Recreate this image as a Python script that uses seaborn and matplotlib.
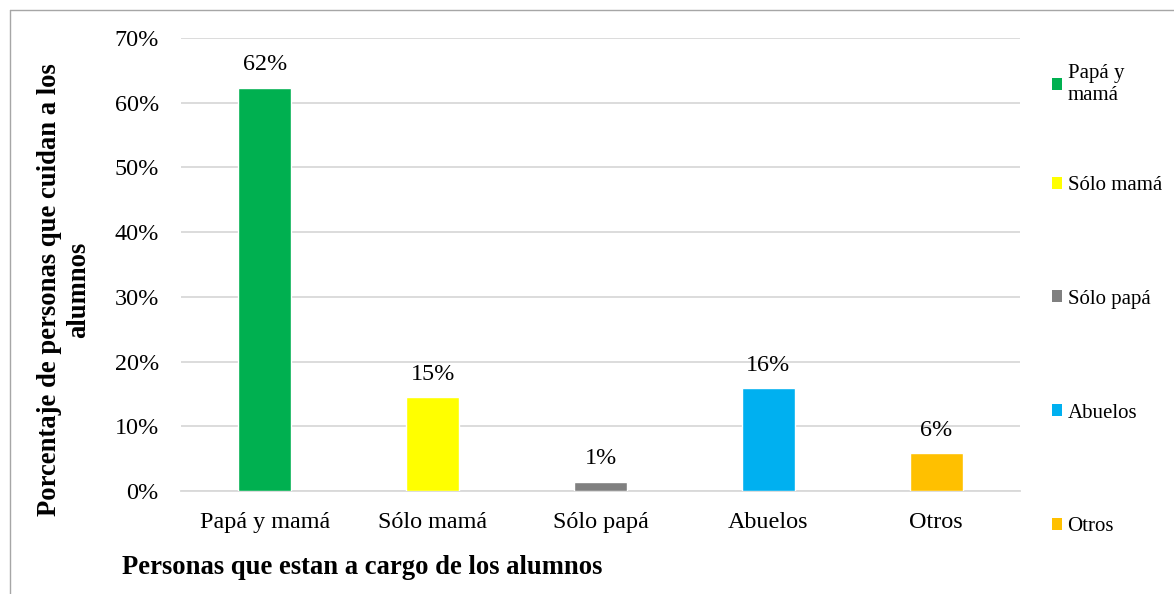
"""Bar chart: personas a cargo de los alumnos."""
import matplotlib.pyplot as plt
import pandas as pd
import seaborn as sns
from matplotlib.lines import Line2D
from matplotlib.patches import Patch
from matplotlib.ticker import PercentFormatter

categorias = ['Papá y mamá', 'Sólo mamá', 'Sólo papá', 'Abuelos', 'Otros']
leyenda = ['Papá y\nmamá', 'Sólo mamá', 'Sólo papá', 'Abuelos', 'Otros']
porcentajes = [62.3, 14.5, 1.4, 15.9, 5.8]
etiquetas = ['62%', '15%', '1%', '16%', '6%']
colores = ['#00B050', '#FFFF00', '#808080', '#00B0F0', '#FFC000']

sns.set_theme(style='white')
plt.rcParams['font.family'] = ['Liberation Serif', 'DejaVu Serif']
plt.rcParams['text.color'] = 'black'
plt.rcParams['xtick.color'] = 'black'
plt.rcParams['ytick.color'] = 'black'

df = pd.DataFrame({'categoria': categorias, 'porcentaje': porcentajes})

fig = plt.figure(figsize=(11.74, 5.94), dpi=100)
W, H = 1174, 594
ax = fig.add_axes([181 / W, 1 - 491 / H, 839 / W, 453 / H])

sns.barplot(data=df, x='categoria', y='porcentaje', hue='categoria',
            palette=colores, width=0.315, saturation=1, legend=False, ax=ax, zorder=3)

for i, (v, t) in enumerate(zip(porcentajes, etiquetas)):
    ax.annotate(t, (i, v), xytext=(0, 9), textcoords='offset points',
                ha='center', va='bottom', fontsize=17.4)

ax.set_ylim(0, 70)
ax.set_xlim(-0.5, 4.5)
ax.set_yticks(range(0, 71, 10))
ax.yaxis.set_major_formatter(PercentFormatter(decimals=0))
ax.grid(axis='y', color='#D9D9D9', linewidth=1.3, zorder=0)
ax.tick_params(axis='both', length=0, labelsize=17.4)
ax.tick_params(axis='y', pad=16)
ax.tick_params(axis='x', pad=15)
for s in ['top', 'right', 'left']:
    ax.spines[s].set_visible(False)
ax.spines['bottom'].set_color('#D9D9D9')
ax.spines['bottom'].set_linewidth(1.3)
ax.set_xlabel('')
ax.set_ylabel('')

fig.text(64 / W, 1 - 290 / H, 'Porcentaje de personas que cuidan a los\nalumnos',
         rotation=90, ha='center', va='center', fontsize=19.2,
         fontweight='bold', linespacing=1.2)
fig.text(122 / W, 1 - 568 / H, 'Personas que estan a cargo de los alumnos',
         ha='left', va='center', fontsize=19.2, fontweight='bold')

# leyenda: la primera entrada ocupa dos líneas, el resto va espaciado aparte
handles = [Patch(facecolor=c, edgecolor='none') for c in colores]
estilo = dict(loc='upper left', frameon=False, fontsize=15, handlelength=0.5,
              handleheight=0.5, handletextpad=0.25, borderaxespad=0, borderpad=0)
fig.legend(handles[:1], leyenda[:1], bbox_to_anchor=(1052 / W, 1 - 64 / H), **estilo)
fig.legend(handles[1:], leyenda[1:], bbox_to_anchor=(1052 / W, 1 - 176 / H),
           labelspacing=4.55, **estilo)

# marco de la figura
fig.add_artist(Line2D([10 / W, 10 / W], [0, 1 - 10 / H], color='#A6A6A6', lw=1,
                      transform=fig.transFigure))
fig.add_artist(Line2D([10 / W, 1], [1 - 10 / H, 1 - 10 / H], color='#A6A6A6', lw=1,
                      transform=fig.transFigure))

fig.savefig('out.png', dpi=100)
